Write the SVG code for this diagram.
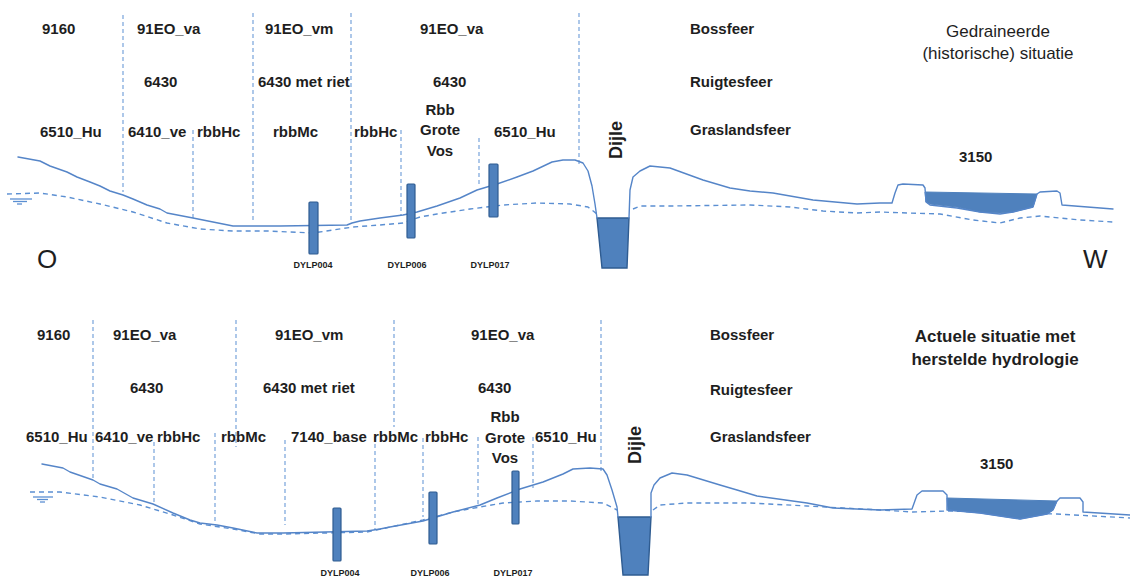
<svg xmlns="http://www.w3.org/2000/svg" width="1130" height="577" viewBox="0 0 1130 577">
  <style>
    .lbl { font-family: "Liberation Sans", Arial, sans-serif; font-weight: bold; font-size: 15px; fill: #1e1e1e; }
    .mid { text-anchor: middle; }
    .tiny { font-family: "Liberation Sans", Arial, sans-serif; font-weight: bold; font-size: 9px; fill: #1e1e1e; text-anchor: middle; }
    .title { font-family: "Liberation Sans", Arial, sans-serif; font-size: 17px; fill: #1e1e1e; text-anchor: middle; }
    .dir { font-family: "Liberation Sans", Arial, sans-serif; font-size: 26px; fill: #1e1e1e; }
    .river { font-family: "Liberation Sans", Arial, sans-serif; font-weight: bold; font-size: 18px; fill: #1e1e1e; text-anchor: middle; }
    .ground { fill: none; stroke: #5585c8; stroke-width: 1.4; stroke-linejoin: round; stroke-linecap: round; }
    .water { fill: none; stroke: #5b8fd2; stroke-width: 1.4; stroke-dasharray: 5 4; stroke-linejoin: round; }
    .zone { fill: none; stroke: #6b9bd8; stroke-width: 1.1; stroke-dasharray: 4 3; }
    .tube { fill: #4f81bd; stroke: #2f5c91; stroke-width: 1.2; }
    .pond { fill: #4f81bd; stroke: #4f81bd; stroke-width: 1; }
    .channel { fill: #4f81bd; stroke: #2f5c91; stroke-width: 1.4; }
    .wl { stroke: #5b8fd2; stroke-width: 1.3; }
  </style>

  <!-- ===== Upper section: drained situation ===== -->
  <g id="section-drained">
    <g id="zone-boundaries-top">
      <line class="zone" x1="123" y1="15" x2="123" y2="192"/>
      <line class="zone" x1="253" y1="13" x2="253" y2="223"/>
      <line class="zone" x1="351" y1="13" x2="351" y2="222"/>
      <line class="zone" x1="193" y1="130" x2="193" y2="218"/>
      <line class="zone" x1="401" y1="130" x2="401" y2="215"/>
      <line class="zone" x1="479" y1="138" x2="479" y2="185"/>
      <line class="zone" x1="579" y1="13" x2="579" y2="165"/>
    </g>

    <!-- groundwater table -->
    <path class="water" d="M7,194 L40,193 L67,197 L100,204 L133,212 L167,223 L200,229 L233,231 L267,231 L313,233 L333,230 L353,227 L380,225 L403,223 L420,217 L437,214 L470,209 L503,205 L537,203 L570,204 L588,207 L597,214"/>
    <path class="water" d="M633,209 L640,206 L670,206 L750,205 L790,207 L823,211 L857,213 L880,212 L907,213 L940,214 L973,220 L1000,223 L1020,218 L1040,216 L1080,220 L1113,222"/>

    <!-- river channel and pond -->
    <polygon class="channel" points="597,218 629,218 627,268 602,268"/>
    <polygon class="pond" points="925,192 1037,194 1033,207 1013,212 1000,213 980,212 957,207 930,204 926,202"/>

    <!-- ground surface -->
    <path class="ground" d="M18,157 L40,161 L50,166 L67,172 L77,177 L90,182 L100,186 L110,191 L123,195 L133,199 L147,205 L160,209 L167,213 L193,218 L213,222 L233,226 L280,226 L347,225 L352,223 L360,221 L380,218 L403,215 L417,212 L437,206 L460,198 L477,190 L497,184 L517,177 L533,171 L552,162 L563,160 L575,160 L583,163 L588,171 L592,186 L595,204 L597,218"/>
    <path class="ground" d="M629,218 L630,190 L633,177 L640,171 L650,166 L670,168 L703,180 L730,188 L750,191 L773,193 L813,200 L857,204 L880,203 L892,203 L895,193 L898,185 L903,184 L923,185 L925,188 L926,202 L930,205 L957,208 L980,212 L1000,214 L1013,212 L1033,207 L1037,194 L1040,192 L1057,191 L1060,193 L1062,205 L1113,209"/>

    <!-- water level symbol -->
    <line class="wl" x1="10" y1="199" x2="32" y2="199"/>
    <line class="wl" x1="13" y1="201.5" x2="27" y2="201.5"/>
    <line class="wl" x1="17" y1="204" x2="22" y2="204"/>

    <!-- piezometers -->
    <rect class="tube" x="309" y="202" width="9" height="52" rx="1"/>
    <rect class="tube" x="407" y="184" width="8" height="54" rx="1"/>
    <rect class="tube" x="489" y="164" width="9" height="53" rx="1"/>
    <text class="tiny" x="313" y="268">DYLP004</text>
    <text class="tiny" x="407" y="268">DYLP006</text>
    <text class="tiny" x="490" y="268">DYLP017</text>

    <text class="lbl" x="42" y="34">9160</text>
    <text class="lbl" x="137" y="34">91EO_va</text>
    <text class="lbl" x="265" y="34">91EO_vm</text>
    <text class="lbl" x="420" y="34">91EO_va</text>
    <text class="lbl" x="690" y="34">Bossfeer</text>
    <text class="lbl" x="144" y="87">6430</text>
    <text class="lbl" x="258" y="87">6430 met riet</text>
    <text class="lbl" x="433" y="87">6430</text>
    <text class="lbl" x="690" y="87">Ruigtesfeer</text>
    <text class="lbl" x="40" y="137">6510_Hu</text>
    <text class="lbl" x="128" y="137">6410_ve</text>
    <text class="lbl" x="197" y="137">rbbHc</text>
    <text class="lbl" x="273" y="137">rbbMc</text>
    <text class="lbl" x="354" y="137">rbbHc</text>
    <text class="lbl mid" x="440" y="115">Rbb</text>
    <text class="lbl mid" x="440" y="135">Grote</text>
    <text class="lbl mid" x="440" y="156">Vos</text>
    <text class="lbl" x="494" y="137">6510_Hu</text>
    <text class="lbl" x="690" y="135">Graslandsfeer</text>
    <text class="lbl" x="959" y="162">3150</text>
    <text class="title" x="998" y="37">Gedraineerde</text>
    <text class="title" x="998" y="59">(historische) situatie</text>
    <text class="river" transform="translate(622,140) rotate(-90)">Dijle</text>
    <text class="dir" x="37" y="268">O</text>
    <text class="dir" x="1083" y="268">W</text>
  </g>

  <!-- ===== Lower section: current situation with restored hydrology ===== -->
  <g id="section-restored">
    <g id="zone-boundaries-bottom">
      <line class="zone" x1="93" y1="320" x2="93" y2="480"/>
      <line class="zone" x1="236" y1="320" x2="236" y2="447"/>
      <line class="zone" x1="394" y1="320" x2="394" y2="427"/>
      <line class="zone" x1="601" y1="320" x2="601" y2="472"/>
      <line class="zone" x1="154" y1="442" x2="154" y2="503"/>
      <line class="zone" x1="215" y1="433" x2="215" y2="525"/>
      <line class="zone" x1="285" y1="440" x2="285" y2="525"/>
      <line class="zone" x1="375" y1="437" x2="375" y2="530"/>
      <line class="zone" x1="423" y1="438" x2="423" y2="517"/>
      <line class="zone" x1="478" y1="437" x2="478" y2="507"/>
      <line class="zone" x1="533" y1="437" x2="533" y2="488"/>
    </g>

    <!-- groundwater table -->
    <path class="water" d="M30,492 L60,492 L100,497 L140,505 L173,515 L200,524 L233,529 L260,534 L283,534 L367,532 L423,520 L453,512 L480,507 L503,503 L537,501 L570,501 L603,503 L617,510"/>
    <path class="water" d="M653,510 L660,505 L687,503 L750,503 L807,506 L880,510 L913,512 L947,511 L1057,514 L1130,518"/>

    <!-- river channel and pond -->
    <polygon class="channel" points="618,517 651,517 648,575 623,575"/>
    <polygon class="pond" points="947,498 1057,501 1053,510 1047,514 1020,519 980,513 948,510"/>

    <!-- ground surface -->
    <path class="ground" d="M42,464 L63,468 L70,472 L93,480 L100,484 L117,489 L133,498 L153,504 L173,513 L190,520 L200,523 L217,525 L233,528 L257,533 L283,533 L367,531 L380,529 L390,527 L423,521 L453,512 L480,505 L497,498 L520,489 L543,482 L563,474 L573,469 L590,468 L603,469 L607,475 L612,490 L617,507 L618,517"/>
    <path class="ground" d="M651,517 L651,493 L654,485 L660,478 L672,473 L687,475 L720,485 L737,490 L757,496 L807,503 L833,508 L880,510 L912,509 L917,495 L922,491 L943,491 L947,495 L947,510 L980,513 L1020,519 L1047,514 L1053,510 L1057,501 L1060,498 L1080,498 L1083,502 L1083,512 L1130,515"/>

    <!-- water level symbol -->
    <line class="wl" x1="33" y1="497" x2="53" y2="497"/>
    <line class="wl" x1="37" y1="499.5" x2="48" y2="499.5"/>
    <line class="wl" x1="40" y1="502" x2="45" y2="502"/>

    <!-- piezometers -->
    <rect class="tube" x="333" y="508" width="8" height="53" rx="1"/>
    <rect class="tube" x="429" y="492" width="8" height="52" rx="1"/>
    <rect class="tube" x="512" y="471" width="7" height="53" rx="1"/>
    <text class="tiny" x="340" y="576">DYLP004</text>
    <text class="tiny" x="430" y="576">DYLP006</text>
    <text class="tiny" x="513" y="576">DYLP017</text>

    <text class="lbl" x="37" y="340">9160</text>
    <text class="lbl" x="113" y="340">91EO_va</text>
    <text class="lbl" x="275" y="340">91EO_vm</text>
    <text class="lbl" x="471" y="340">91EO_va</text>
    <text class="lbl" x="710" y="340">Bossfeer</text>
    <text class="lbl" x="130" y="393">6430</text>
    <text class="lbl" x="263" y="393">6430 met riet</text>
    <text class="lbl" x="478" y="393">6430</text>
    <text class="lbl" x="710" y="395">Ruigtesfeer</text>
    <text class="lbl" x="26" y="442">6510_Hu</text>
    <text class="lbl" x="95" y="442">6410_ve</text>
    <text class="lbl" x="157" y="442">rbbHc</text>
    <text class="lbl" x="221" y="442">rbbMc</text>
    <text class="lbl" x="291" y="442">7140_base</text>
    <text class="lbl" x="373" y="442">rbbMc</text>
    <text class="lbl" x="425" y="442">rbbHc</text>
    <text class="lbl mid" x="505" y="422">Rbb</text>
    <text class="lbl mid" x="505" y="443">Grote</text>
    <text class="lbl mid" x="505" y="463">Vos</text>
    <text class="lbl" x="535" y="442">6510_Hu</text>
    <text class="lbl" x="710" y="442">Graslandsfeer</text>
    <text class="lbl" x="980" y="469">3150</text>
    <text class="title" x="995" y="342" font-weight="bold">Actuele situatie met</text>
    <text class="title" x="995" y="365" font-weight="bold">herstelde hydrologie</text>
    <text class="river" transform="translate(641,445) rotate(-90)">Dijle</text>
  </g>
</svg>
